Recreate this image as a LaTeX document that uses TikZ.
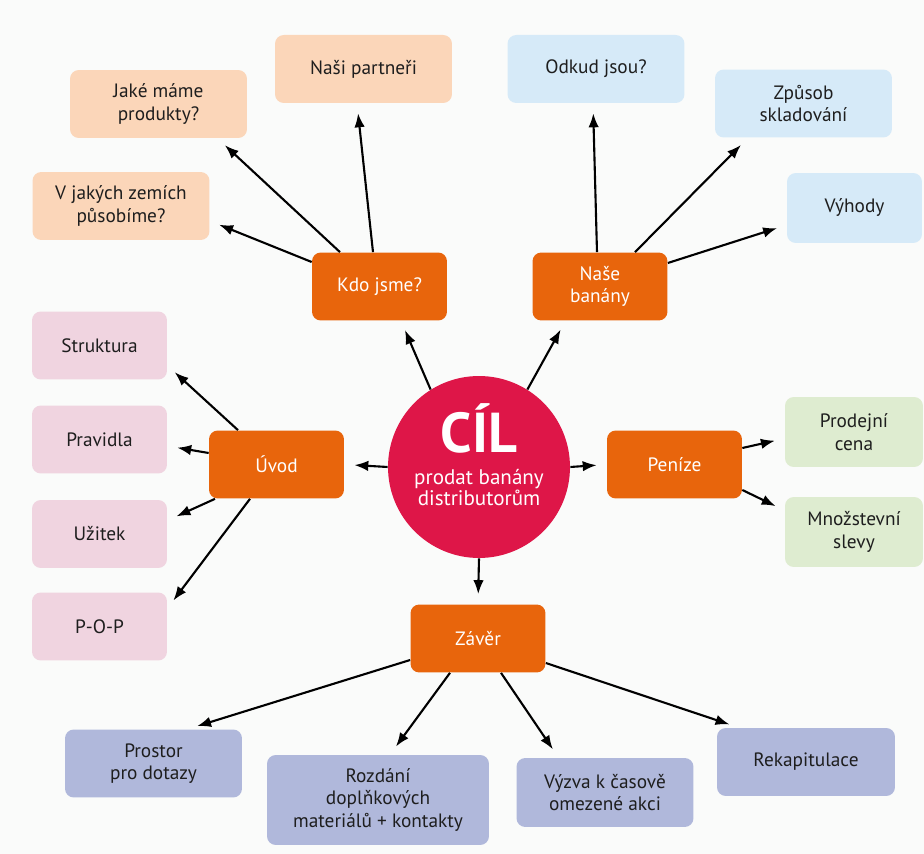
\documentclass[tikz,border=0pt]{standalone}
\usepackage{fontspec}
\setmainfont{PT Sans}
\usetikzlibrary{arrows.meta,positioning}
\definecolor{topicorange}{RGB}{232,101,12}
\definecolor{goalred}{RGB}{222,22,72}
\definecolor{peach}{RGB}{251,214,185}
\definecolor{sky}{RGB}{214,234,248}
\definecolor{rose}{RGB}{240,212,224}
\definecolor{sage}{RGB}{222,236,208}
\definecolor{slate}{RGB}{176,184,219}
\definecolor{paper}{RGB}{250,251,250}
\definecolor{ink}{RGB}{30,30,30}
\newcommand{\lbl}{\fontsize{11}{12.8}\selectfont}
\tikzset{
  goal/.style={circle,fill=goalred,text=white,minimum size=3.64cm,inner sep=0pt,align=center,text depth=0.5cm},
  topic/.style={rectangle,fill=topicorange,text=white,rounded corners=5pt,minimum width=2.7cm,minimum height=1.36cm,align=center,font=\lbl},
  leaf/.style={rectangle,rounded corners=5pt,minimum width=3.54cm,minimum height=1.36cm,align=center,text=ink,font=\lbl},
  tr/.style={-{Latex[length=0.28cm,width=0.21cm]}, line width=1.2pt, shorten >=0.2cm}
}
\begin{document}
\begin{tikzpicture}[x=0.02cm,y=-0.02cm]
    \useasboundingbox[fill=paper] (0,0) rectangle (924,854);

    % Goal
    \node[goal] (cil) at (479,467) {{\fontsize{32}{32}\selectfont\bfseries CÍL}\\[6pt]
      {\fontsize{12}{13.5}\selectfont prodat banány}\\{\fontsize{12}{13.5}\selectfont distributorům}};

    % Topics
    \node[topic] (kdo) at (379.5,286.5) {Kdo jsme?};
    \node[topic] (nase) at (600,286.5) {Naše\\banány};
    \node[topic] (uvod) at (276.5,464.5) {Úvod};
    \node[topic] (penize) at (674.5,464.5) {Peníze};
    \node[topic] (zaver) at (478,638.5) {Závěr};

    % Kdo jsme?
    \node[leaf,fill=peach] (partneri) at (363.5,69) {Naši partneři};
    \node[leaf,fill=peach] (produkty) at (158.5,104) {Jaké máme\\produkty?};
    \node[leaf,fill=peach] (zeme) at (121,206) {V jakých zemích\\působíme?};

    % Naše banány
    \node[leaf,fill=sky] (odkud) at (596,69) {Odkud jsou?};
    \node[leaf,fill=sky] (zpusob) at (803.5,103.5) {Způsob\\skladování};
    \node[leaf,fill=sky,minimum width=2.7cm,minimum height=1.4cm] (vyhody) at (854.5,208) {Výhody};

    % Úvod
    \node[leaf,fill=rose,minimum width=2.7cm] (struktura) at (99.5,345.5) {Struktura};
    \node[leaf,fill=rose,minimum width=2.7cm] (pravidla) at (99.5,439.5) {Pravidla};
    \node[leaf,fill=rose,minimum width=2.7cm] (uzitek) at (99.5,534) {Užitek};
    \node[leaf,fill=rose,minimum width=2.7cm] (pop) at (99.5,626.5) {P-O-P};

    % Peníze
    \node[leaf,fill=sage,minimum width=2.76cm,minimum height=1.4cm] (prodejni) at (854,432) {Prodejní\\cena};
    \node[leaf,fill=sage,minimum width=2.76cm,minimum height=1.4cm] (mnozstevni) at (854,532) {Množstevní\\slevy};

    % Závěr
    \node[leaf,fill=slate] (prostor) at (153.5,763.5) {Prostor\\pro dotazy};
    \node[leaf,fill=slate,minimum width=4.44cm,minimum height=1.8cm] (rozdani) at (378,800) {Rozdání\\doplňkových\\materiálů + kontakty};
    \node[leaf,fill=slate,minimum height=1.38cm] (vyzva) at (605,792.5) {Výzva k časově\\omezené akci};
    \node[leaf,fill=slate,minimum width=3.56cm] (rekap) at (806,762) {Rekapitulace};

    % Goal to topics
    \draw[tr] (cil.122) -- ([xshift=0.43cm]kdo.south);
    \draw[tr] (cil.58) -- ([xshift=-0.69cm]nase.south);
    \draw[tr] (cil.west) -- (uvod.east);
    \draw[tr] (cil.east) -- (penize.west);
    \draw[tr] (cil.south) -- (zaver.north);

    % Kdo jsme?
    \draw[tr] ([xshift=-0.13cm]kdo.north) -- ([xshift=-0.13cm]partneri.south);
    \draw[tr] ([xshift=-0.79cm]kdo.north) -- ([xshift=1.18cm]produkty.south);
    \draw[tr] ([yshift=0.49cm]kdo.west) -- ([yshift=-0.3cm]zeme.east);

    % Naše banány
    \draw[tr] ([xshift=-0.06cm]nase.north) -- ([xshift=-0.06cm]odkud.south);
    \draw[tr] ([xshift=0.7cm]nase.north) -- ([xshift=-1.11cm]zpusob.south);
    \draw[tr] ([yshift=0.47cm]nase.east) -- ([yshift=-0.34cm]vyhody.west);

    % Úvod
    \draw[tr] ([xshift=-0.77cm]uvod.north) -- ([yshift=-0.4cm]struktura.east);
    \draw[tr] ([yshift=0.23cm]uvod.west) -- ([yshift=-0.13cm]pravidla.east);
    \draw[tr] ([xshift=-1.23cm]uvod.south) -- ([yshift=0.27cm]uzitek.east);
    \draw[tr] ([xshift=-0.53cm]uvod.south) -- ([yshift=0.36cm]pop.east);

    % Peníze
    \draw[tr] ([yshift=0.33cm]penize.east) -- ([yshift=-0.13cm]prodejni.west);
    \draw[tr] ([yshift=-0.51cm]penize.east) -- ([yshift=0.43cm]mnozstevni.west);

    % Závěr
    \draw[tr] ([yshift=-0.43cm]zaver.west) -- ([xshift=0.68cm]prostor.north);
    \draw[tr] ([xshift=-0.56cm]zaver.south) -- ([xshift=0.24cm]rozdani.north);
    \draw[tr] ([xshift=0.46cm]zaver.south) -- ([xshift=-0.93cm]vyzva.north);
    \draw[tr] ([yshift=-0.49cm]zaver.east) -- ([xshift=-1.34cm]rekap.north);

\end{tikzpicture}
\end{document}
